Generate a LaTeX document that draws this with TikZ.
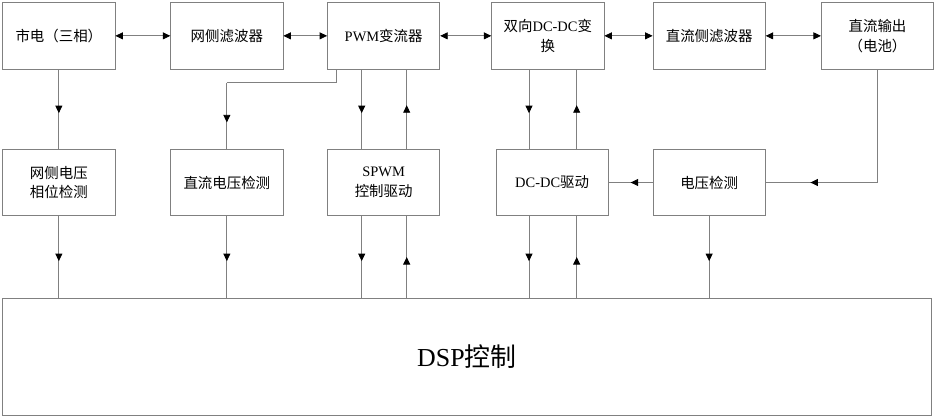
\documentclass[tikz,border=0pt]{standalone}
\usepackage{fontspec}
\setmainfont{Liberation Serif}
\newfontfamily\cjk{Noto Sans CJK SC}
\usetikzlibrary{arrows.meta,decorations.markings}
\definecolor{lc}{RGB}{128,128,128}
\begin{document}
\begin{tikzpicture}[x=1bp,y=-1bp,
  box/.style={draw=lc, line width=0.8bp, minimum width=112.3bp, minimum height=66.5bp,
    align=center, font=\fontsize{14.5}{20}\selectfont, inner sep=0pt},
  ln/.style={draw=lc, line width=0.8bp},
  bi/.style={ln, {Triangle[length=7.5bp,width=7bp,color=black]}-{Triangle[length=7.5bp,width=7bp,color=black]}},
  mid/.style={ln, postaction={decorate}, decoration={markings,
    mark=at position #1 with {\arrow[black]{Triangle[length=7.5bp,width=7bp]}}}},
  mid/.default=0.55]
\useasboundingbox[fill=white] (0,0) rectangle (935,419);
% top row
\node[box] (grid) at (58.85,35.85) {\cjk 市电（三相）};
\node[box] (gflt) at (226.85,35.85) {\cjk 网侧滤波器};
\node[box] (pwm)  at (383.65,35.85) {PWM{\cjk 变流器}};
\node[box] (dcdc) at (547.85,35.85) {{\cjk 双向}DC-DC{\cjk 变}\\{\cjk 换}};
\node[box] (dflt) at (709.15,35.85) {\cjk 直流侧滤波器};
\node[box] (bat)  at (877.5,35.85) {{\cjk 直流输出}\\{\cjk （电池）}};
% middle row
\node[box] (gpd)  at (58.85,182.5) {{\cjk 网侧电压}\\{\cjk 相位检测}};
\node[box] (dcv)  at (226.85,182.5) {\cjk 直流电压检测};
\node[box] (spwm) at (383.65,182.5) {SPWM\\{\cjk 控制驱动}};
\node[box] (drv)  at (552.15,182.5) {DC-DC{\cjk 驱动}};
\node[box] (vd)   at (709.15,182.5) {\cjk 电压检测};
% DSP
\node[draw=lc, line width=0.8bp, minimum width=928.3bp, minimum height=117.4bp, inner sep=0pt,
  font=\fontsize{26}{30}\selectfont] (dsp) at (466.85,357) {DSP{\cjk 控制}};
% coordinates for vertical lines
\coordinate (xa) at (361.7,0);
\coordinate (xb) at (406.7,0);
\coordinate (xc) at (529,0);
\coordinate (xd) at (576.7,0);
\coordinate (k)  at (336.7,82.7);
% top horizontal arrows
\draw[bi] (grid.east) -- (gflt.west);
\draw[bi] (gflt.east) -- (pwm.west);
\draw[bi] (pwm.east) -- (dcdc.west);
\draw[bi] (dcdc.east) -- (dflt.west);
\draw[bi] (dflt.east) -- (bat.west);
% column 1
\draw[mid] (grid.south) -- (gpd.north);
\draw[mid] (gpd.south) -- (gpd.south |- dsp.north);
% column 2
\draw[ln] (pwm.south -| k) -- (k) -- (k -| dcv.north);
\draw[mid=0.6] (k -| dcv.north) -- (dcv.north);
\draw[mid] (dcv.south) -- (dcv.south |- dsp.north);
% column 3
\draw[mid] (pwm.south -| xa) -- (spwm.north -| xa);
\draw[mid] (spwm.north -| xb) -- (pwm.south -| xb);
\draw[mid] (spwm.south -| xa) -- (dsp.north -| xa);
\draw[mid=0.5] (dsp.north -| xb) -- (spwm.south -| xb);
% column 4
\draw[mid] (dcdc.south -| xc) -- (drv.north -| xc);
\draw[mid] (drv.north -| xd) -- (dcdc.south -| xd);
\draw[mid] (drv.south -| xc) -- (dsp.north -| xc);
\draw[mid=0.5] (dsp.north -| xd) -- (drv.south -| xd);
% column 5/6
\draw[mid] (vd.south) -- (vd.south |- dsp.north);
\draw[ln] (bat.south) -- (bat.south |- vd.east);
\draw[mid=0.6] (bat.south |- vd.east) -- (vd.east);
\draw[mid=0.5] (vd.west) -- (drv.east);
\end{tikzpicture}
\end{document}
